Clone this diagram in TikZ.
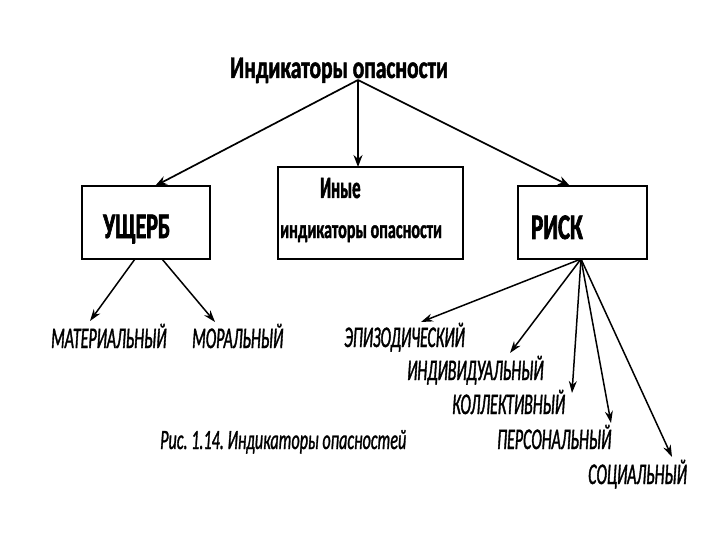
\documentclass[tikz,border=0pt]{standalone}
\usepackage{fontspec}
\setmainfont{Carlito}
\newfontfamily\condT{Carlito}[FakeStretch=0.68,FakeBold=1.5]
\newfontfamily\condB{Carlito}[FakeStretch=0.61,FakeBold=1.8]
\newfontfamily\condR{Carlito}[FakeStretch=0.63,FakeBold=1.8]
\newfontfamily\condI{Carlito}[FakeStretch=0.54,FakeBold=1.5]
\newfontfamily\condM{Carlito}[FakeStretch=0.62,FakeBold=1.3]
\newfontfamily\condL{Carlito}[FakeStretch=0.53,FakeBold=1.2]
\newfontfamily\condC{Carlito}[FakeStretch=0.576,FakeBold=1.0]
\usetikzlibrary{arrows.meta}
\frenchspacing
\tikzset{
  px/.style={x=1pt,y=-1pt},
  box/.style={draw,line width=1.8pt,inner sep=0pt},
  lbl/.style={anchor=base west,inner sep=0pt,font=\condL\itshape\fontsize{30}{30}\selectfont},
  hdr/.style={anchor=base west,inner sep=0pt,font=\condT\bfseries\fontsize{31.6}{31.6}\selectfont},
  arr/.style={line width=1.7pt,-{Stealth[length=12pt,width=9pt]}},
  arrs/.style={line width=1.5pt,-{Stealth[length=12pt,width=8pt]}}
}
\begin{document}
\begin{tikzpicture}[px]
\useasboundingbox (0,0) rectangle (720,540);
% boxes
\draw[box] (82,186) rectangle (210,259);
\draw[box] (278,167) rectangle (463,259);
\draw[box] (518,186) rectangle (647,259);
% texts
\node[hdr] (title) at (230,78) {Индикаторы опасности};
\node[hdr,font=\condB\bfseries\fontsize{36}{36}\selectfont] (ush) at (103,238) {УЩЕРБ};
\node[hdr,font=\condR\bfseries\fontsize{36}{36}\selectfont] (risk) at (531,239) {РИСК};
\node[hdr,font=\condI\bfseries\fontsize{31}{31}\selectfont] (in1) at (320,198) {Иные};
\node[hdr,font=\condM\bfseries\fontsize{26}{26}\selectfont] (in2) at (280,238) {индикаторы опасности};
\node[lbl] (mat) at (51,348) {МАТЕРИАЛЬНЫЙ};
\node[lbl] (mor) at (192,348) {МОРАЛЬНЫЙ};
\node[lbl] (epi) at (344,347) {ЭПИЗОДИЧЕСКИЙ};
\node[lbl] (ind) at (407,380) {ИНДИВИДУАЛЬНЫЙ};
\node[lbl] (kol) at (452,414) {КОЛЛЕКТИВНЫЙ};
\node[lbl] (per) at (497,449) {ПЕРСОНАЛЬНЫЙ};
\node[lbl] (soc) at (588,484) {СОЦИАЛЬНЫЙ};
\node[lbl,font=\condC\itshape\fontsize{28}{28}\selectfont] (cap) at (160,449) {Рис. 1.14. Индикаторы опасностей};
% connector points
\coordinate (top) at (358,80);
\coordinate (uIn) at (155,186);
\coordinate (mIn) at (358,167);
\coordinate (rIn) at (570,186);
\coordinate (uL) at (135,259);
\coordinate (uR) at (162,259);
\coordinate (rB) at (581,259);
\coordinate (matT) at (90,321);
\coordinate (morT) at (215,322);
\coordinate (epiT) at (421,322);
\coordinate (indT) at (510,353);
\coordinate (kolT) at (572,393);
\coordinate (perT) at (611,423);
\coordinate (socT) at (672,457);
% arrows
\draw[arr] (top) -- (uIn);
\draw[arr] (top) -- (mIn);
\draw[arr] (top) -- (rIn);
\draw[arrs] (uL) -- (matT);
\draw[arrs] (uR) -- (morT);
\draw[arrs] (rB) -- (epiT);
\draw[arrs] (rB) -- (indT);
\draw[arrs] (rB) -- (kolT);
\draw[arrs] (rB) -- (perT);
\draw[arrs] (rB) -- (socT);
\end{tikzpicture}
\end{document}
